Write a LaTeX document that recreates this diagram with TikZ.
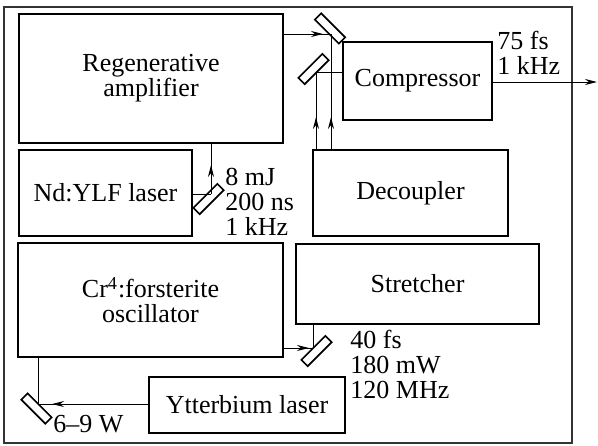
\documentclass[tikz,border=0pt]{standalone}
\usepackage{fontspec}
\setmainfont{Liberation Serif}
\usetikzlibrary{arrows.meta,decorations.markings}

\begin{document}
\begin{tikzpicture}[x=0.5pt, y=-0.5pt,
    box/.style={draw, line width=1pt, align=center, inner sep=0pt,
      font=\fontsize{13}{12.5}\selectfont},
    mirror/.style={draw, line width=0.8pt, minimum width=17pt,
      minimum height=4.5pt, inner sep=0pt},
    beam/.style={line width=0.5pt},
    spec/.style={anchor=base west, align=left, inner sep=0pt,
      font=\fontsize{13}{12.5}\selectfont},
    tipat/.style={postaction={decorate}, decoration={markings,
      mark=at position #1 with {\arrow{Stealth[length=6pt,width=3pt]}}}},
    >={Stealth[length=6pt,width=3pt]}]
    \useasboundingbox (0,0) rectangle (598,445);
    \draw[line width=0.6pt, black!80] (4,7) rectangle (572,443);

    % boxes
    \node[box, minimum width=132pt, minimum height=64.5pt] (regen) at (151,78.5) {Regenerative\\amplifier};
    \node[box, minimum width=86.5pt, minimum height=43pt] (nd) at (105.5,193) {Nd:YLF laser};
    \node[box, minimum width=132.5pt, minimum height=57pt] (cr) at (150.5,300) {Cr\textsuperscript{4}:forsterite\\oscillator};
    \node[box, minimum width=98pt, minimum height=28pt] (yb) at (247,405) {Ytterbium laser};
    \node[box, minimum width=121.5pt, minimum height=40pt] (str) at (417.5,284) {Stretcher};
    \node[box, minimum width=97.5pt, minimum height=43pt] (dec) at (410.5,193) {Decoupler};
    \node[box, minimum width=74.5pt, minimum height=39pt] (comp) at (417.5,81) {Compressor};

    % mirrors
    \node[mirror, rotate=-45] (m1) at (330,28.5) {};
    \node[mirror, rotate=45] (m2) at (313.5,69) {};
    \node[mirror, rotate=45] (m3) at (208.5,199) {};
    \node[mirror, rotate=45] (m4) at (316.5,351) {};
    \node[mirror, rotate=-45] (m5) at (36.5,408.5) {};

    % beam turning points
    \coordinate (h1) at (331,34);
    \coordinate (h2) at (316,72);
    \coordinate (h3) at (211,194);
    \coordinate (h4) at (313,348);
    \coordinate (h5) at (38,404);
    \coordinate (out) at (597,82);

    \draw[beam, tipat=-4pt] (regen.east |- h1) -- (h1);
    \draw[beam, tipat=16pt] (dec.north -| h1) -- (h1);
    \draw[beam, tipat=16pt] (dec.north -| h2) -- (h2);
    \draw[beam] (h2) -- (comp.west |- h2);
    \draw[beam, ->] (comp.east |- out) -- (out);
    \draw[beam] (nd.east |- h3) -- (h3);
    \draw[beam, tipat=14.5pt] (h3) -- (regen.south -| h3);
    \draw[beam, tipat=-2pt] (cr.east |- h4) -- (h4);
    \draw[beam] (h4) -- (str.south -| h4);
    \draw[beam, tipat=-7pt] (yb.west |- h5) -- (h5);
    \draw[beam] (h5) -- (cr.south -| h5);

    % pulse data (anchored at the baseline of the last line)
    \node[spec] (outspec) at (497,74) {75 fs\\1 kHz};
    \node[spec] (ndspec) at (225,235) {8 mJ\\200 ns\\1 kHz};
    \node[spec] (crspec) at (350,398) {40 fs\\180 mW\\120 MHz};
    \node[spec] (ybspec) at (53,432) {6--9 W};
\end{tikzpicture}
\end{document}
